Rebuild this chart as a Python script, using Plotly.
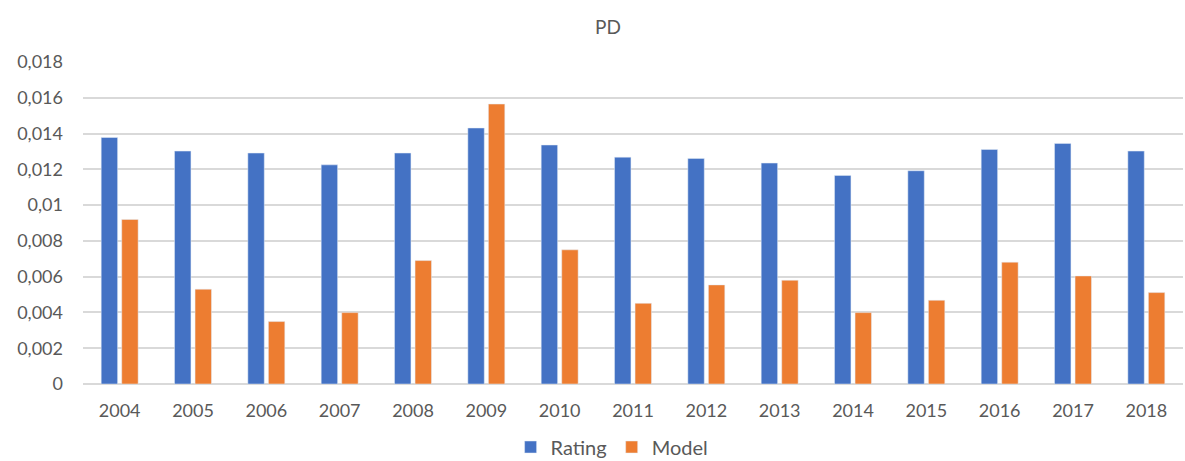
import plotly.graph_objects as go

years = ["2004", "2005", "2006", "2007", "2008", "2009", "2010", "2011",
         "2012", "2013", "2014", "2015", "2016", "2017", "2018"]
rating = [0.01378, 0.01302, 0.01291, 0.01225, 0.01291, 0.01431, 0.01336, 0.01268,
          0.01261, 0.01235, 0.01166, 0.01192, 0.01311, 0.01345, 0.01302]
model = [0.00920, 0.00530, 0.00349, 0.00399, 0.00690, 0.01565, 0.00750, 0.00451,
         0.00554, 0.00580, 0.00399, 0.00468, 0.00681, 0.00604, 0.00511]
y_tick_vals = [0, 0.002, 0.004, 0.006, 0.008, 0.010, 0.012, 0.014, 0.016, 0.018]
y_tick_text = ["0", "0,002", "0,004", "0,006", "0,008", "0,01", "0,012", "0,014", "0,016", "0,018"]

FONT = "Lato, 'Open Sans', sans-serif"
GREY = "#595959"

fig = go.Figure()
fig.add_trace(go.Bar(x=years, y=rating, name="Rating", marker_color="#4472C4"))
fig.add_trace(go.Bar(x=years, y=model, name="Model", marker_color="#ED7D31"))

fig.update_layout(
    width=1185, height=461,
    margin=dict(l=83, r=2, t=62, b=77),
    paper_bgcolor="white", plot_bgcolor="white",
    barmode="group", bargap=0.44, bargroupgap=0.2,
    font=dict(family=FONT, color=GREY, size=18),
    title=dict(text="PD", x=608 / 1185, xanchor="center", y=1 - 27 / 461, yanchor="middle",
               font=dict(family=FONT, size=19, color=GREY)),
    showlegend=True,
    legend=dict(orientation="h", x=0.481, xanchor="center",
                yref="container", y=14 / 461, yanchor="middle",
                font=dict(family=FONT, size=20, color=GREY),
                itemwidth=30, tracegroupgap=0),
)
fig.update_xaxes(showgrid=False, showline=False, ticks="", ticklabelstandoff=14,
                 tickfont=dict(family=FONT, size=18, color=GREY))
fig.update_yaxes(range=[0, 0.018], tickvals=y_tick_vals, ticktext=y_tick_text,
                 showgrid=True, gridcolor="#d9d9d9", gridwidth=1.5,
                 zeroline=True, zerolinecolor="#d9d9d9", zerolinewidth=1.5,
                 showline=False, ticks="", ticklabelstandoff=19,
                 tickfont=dict(family=FONT, size=18, color=GREY))

fig.write_html("out.html")
